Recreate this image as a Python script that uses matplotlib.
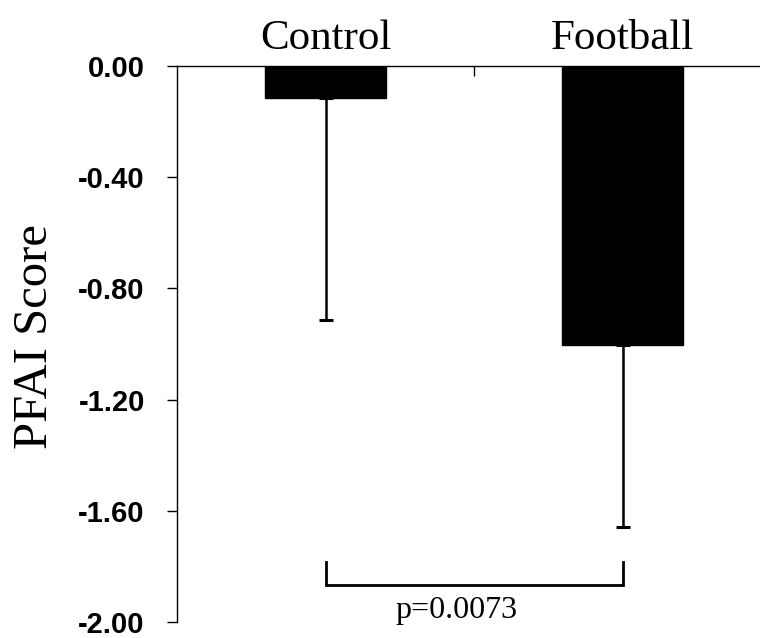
import numpy as np
import matplotlib
import matplotlib.pyplot as plt

matplotlib.use("Agg")
plt.rcParams["axes.unicode_minus"] = False

# group names and values
GROUPS = ["Control", "Football"]
MEANS = [-0.115, -1.005]
# one-sided (downward) error bars
ERRORS = [0.80, 0.655]
Y_TICKS = [0.00, -0.40, -0.80, -1.20, -1.60, -2.00]
P_LABEL = "p=0.0073"
# bracket between the groups
BRACKET_Y = -1.867
BRACKET_TOP = -1.784

SERIF = "Liberation Serif"
SANS = "Liberation Sans"


def create_figure():
    fig = plt.figure(figsize=(7.6, 6.38), dpi=100)
    axis = fig.add_axes([0.2329, 0.0251, 0.7816, 0.8715])
    return fig, axis


def draw_bars(axis):
    x = np.arange(len(GROUPS))
    axis.bar(x, MEANS, width=0.41, color="black", edgecolor="black", zorder=3)
    lower = np.array(ERRORS)
    upper = np.zeros(len(ERRORS))
    axis.errorbar(x, MEANS, yerr=[lower, upper], fmt="none", ecolor="black",
                  elinewidth=1.8, capsize=5, capthick=2.2, zorder=2)
    return x


def style_axis(axis, x):
    axis.set_xlim(-0.5, 1.5)
    axis.set_ylim(-2.0, 0.0)
    axis.spines["right"].set_visible(False)
    axis.spines["bottom"].set_visible(False)
    axis.spines["left"].set_linewidth(1.0)
    axis.spines["top"].set_linewidth(1.0)

    axis.set_yticks(Y_TICKS)
    axis.set_yticklabels(["%.2f" % v for v in Y_TICKS], fontfamily=SANS,
                         fontweight="bold", fontsize=21)
    axis.tick_params(axis="y", direction="out", length=7.2, width=1.0, pad=16)

    axis.xaxis.tick_top()
    axis.set_xticks(x)
    axis.set_xticklabels(GROUPS, fontfamily=SERIF, fontsize=31)
    axis.set_xticks([0.5], minor=True)
    axis.tick_params(axis="x", which="major", length=0, pad=6)
    axis.tick_params(axis="x", which="minor", direction="in", length=7.5,
                     width=1.0, top=True, bottom=False)


def draw_bracket(axis, x):
    axis.plot([x[0], x[0], x[1], x[1]],
              [BRACKET_TOP, BRACKET_Y, BRACKET_Y, BRACKET_TOP],
              color="black", lw=2.0, solid_joinstyle="miter", zorder=4)
    axis.text(0.44, -1.985, P_LABEL, ha="center", va="baseline",
              fontfamily=SERIF, fontsize=23)


if __name__ == "__main__":
    fig, axis = create_figure()
    x = draw_bars(axis)
    style_axis(axis, x)
    draw_bracket(axis, x)
    fig.text(0.046, 0.472, "PFAI Score", rotation=90, ha="center", va="center",
             fontfamily=SERIF, fontsize=35)
    fig.savefig("out.png", dpi=100)
